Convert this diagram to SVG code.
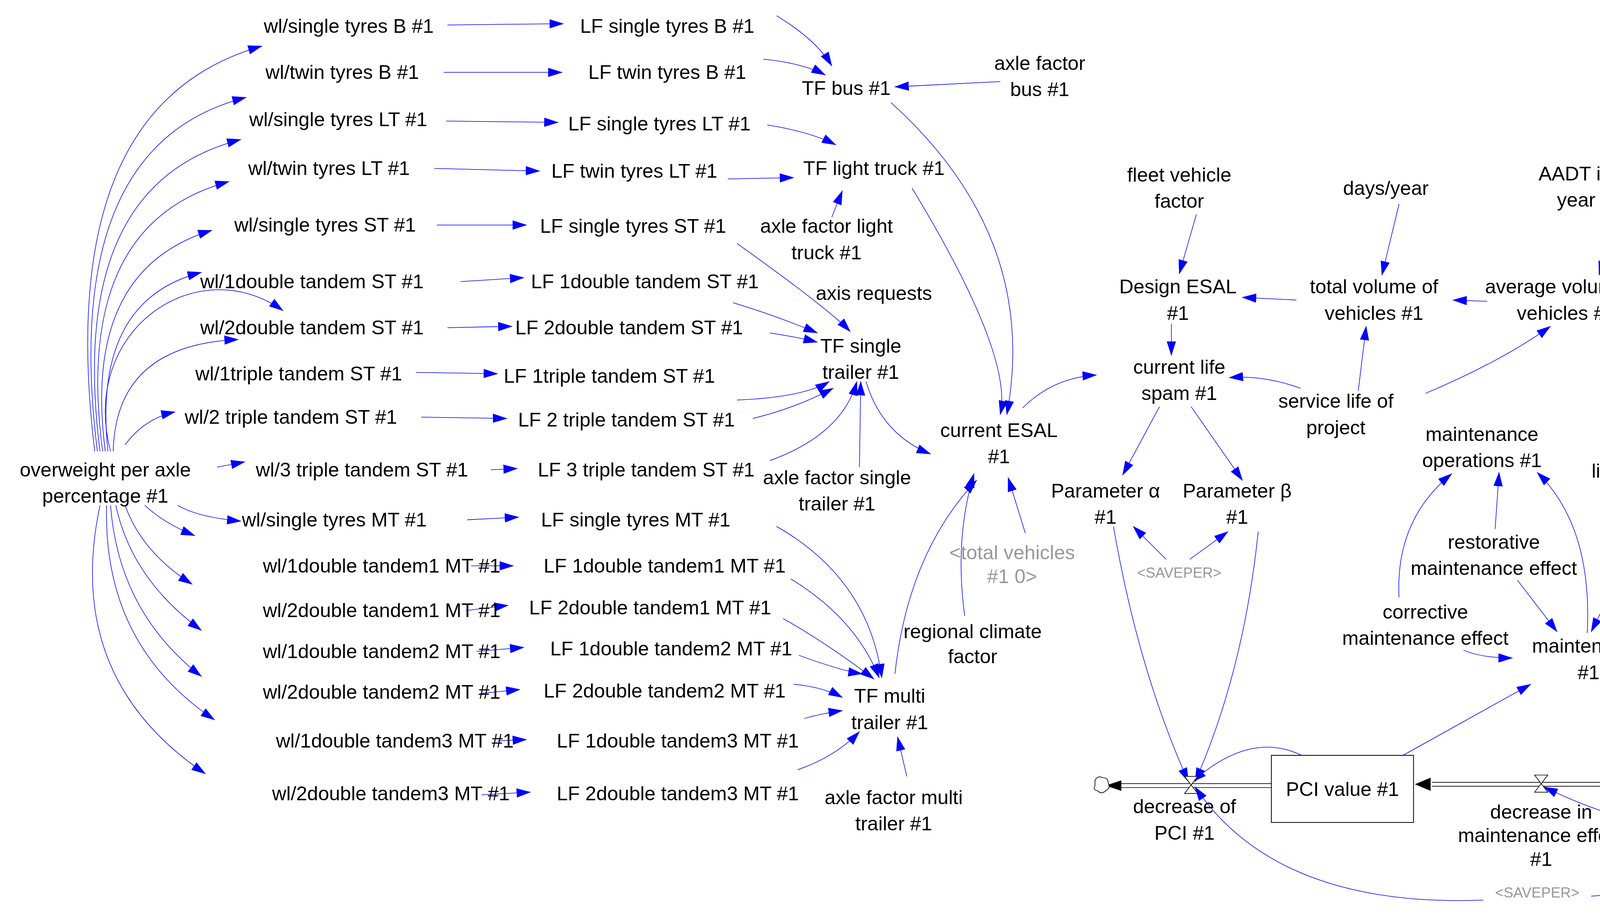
<svg xmlns="http://www.w3.org/2000/svg" width="5283" height="2353" viewBox="0 0 5283 2353">
<style>
text{font-family:"Liberation Sans",Arial,sans-serif;font-size:15px;fill:#000;text-anchor:middle}
text.g{fill:#999}
text.s{font-size:11px}
.c path{fill:none;stroke:#0000ff;stroke-width:0.45;marker-end:url(#a)}
.box{fill:#fff;stroke:#000;stroke-width:0.6}
.pipe{fill:none;stroke:#000;stroke-width:0.5}
</style>
<defs>
<marker id="a" markerUnits="userSpaceOnUse" markerWidth="11" markerHeight="7" refX="10.5" refY="3.5" orient="auto"><path d="M0,0 L11,3.5 L0,7 z" fill="#0000ff"/></marker>
<marker id="b" markerUnits="userSpaceOnUse" markerWidth="12" markerHeight="9" refX="12" refY="4.5" orient="auto"><path d="M0,0 L12,4.5 L0,9 z" fill="#000"/></marker>
</defs>
<rect width="5283" height="2353" fill="#fff"/>
<g transform="scale(3.3693)">
<g id="connectors" class="c">
<path d="M340,19 L428,18"/><path d="M337,55 L427,55"/><path d="M339,92 L424,93"/><path d="M330,128 L410,130"/>
<path d="M332,171 L400,171"/><path d="M350,214 L398,211"/><path d="M340,249 L389,248"/><path d="M316,283 L378,284"/>
<path d="M320,317 L385,318"/><path d="M373,357 L393,356"/><path d="M355,395 L394,393"/><path d="M358,430 L390,430"/>
<path d="M354,464 L386,460"/><path d="M362,495 L398,492"/><path d="M365,527 L395,524"/><path d="M378,563 L400,562"/><path d="M366,604 L403,602"/>
<path d="M72,343 Q40,80 199,35"/><path d="M74,343 Q45,110 187,74"/><path d="M76,343 Q50,140 183,106"/><path d="M78,343 Q55,170 174,138"/>
<path d="M80,343 Q62,205 161,175"/><path d="M82,343 Q70,228 153,207"/><path d="M84,343 C60,250 150,190 215,236"/><path d="M86,343 Q88,262 181,258"/>
<path d="M95,338 Q110,318 133,313"/><path d="M165,355 L186,351"/>
<path d="M135,384 Q150,393 183,396"/><path d="M110,384 Q125,398 148,407"/><path d="M95,384 Q108,420 146,444"/><path d="M88,384 Q100,440 153,479"/>
<path d="M84,384 Q90,465 153,514"/><path d="M81,384 Q78,490 163,547"/><path d="M76,384 Q48,515 156,588"/>
<path d="M590,12 Q620,30 632,50"/><path d="M580,45 Q610,48 627,57"/><path d="M760,62 L680,66"/><path d="M583,95 Q615,100 635,110"/>
<path d="M553,136 L603,135"/><path d="M632,165 L640,145"/><path d="M560,185 Q630,235 646,252"/><path d="M557,230 Q590,240 621,253"/>
<path d="M585,253 Q605,256 621,260"/><path d="M560,304 Q610,302 630,290"/><path d="M572,318 Q605,310 633,295"/>
<path d="M585,350 Q640,330 651,290"/><path d="M653,355 L654,290"/><path d="M658,290 Q670,330 707,345"/>
<path d="M677,78 Q790,180 765,315"/><path d="M693,143 Q770,270 760,315"/><path d="M777,310 Q800,287 833,285"/>
<path d="M590,400 Q660,440 670,515"/><path d="M601,440 Q650,470 668,515"/><path d="M595,470 Q630,490 664,516"/><path d="M607,498 Q640,510 655,512"/>
<path d="M603,520 Q625,522 640,530"/><path d="M611,546 Q625,542 640,540"/><path d="M606,585 Q635,575 653,556"/><path d="M689,590 L682,560"/>
<path d="M680,512 Q690,420 742,365"/><path d="M733,468 Q725,410 740,360"/><path d="M779,405 L766,363"/>
<path d="M909,163 L896,208"/><path d="M1063,155 L1050,209"/><path d="M1216,163 Q1222,185 1215,209"/>
<path d="M985,228 L944,226"/><path d="M1130,229 L1104,228"/><path d="M1346,226 L1280,226"/>
<path d="M890,246 L890,270"/><path d="M988,295 Q960,285 934,287"/><path d="M1032,297 L1038,248"/><path d="M1083,299 Q1140,275 1178,248"/>
<path d="M881,309 L853,361"/><path d="M905,309 L944,365"/><path d="M886,425 L861,400"/><path d="M904,425 L933,404"/>
<path d="M846,400 Q865,510 903,594"/><path d="M956,404 Q945,510 908,594"/><path d="M989,574 Q950,555 906,594"/>
<path d="M1066,574 L1163,520"/><path d="M1280,565 L1224,520"/><path d="M1252,518 L1452,585"/><path d="M1325,502 L1252,500"/>
<path d="M1304,443 L1236,480"/><path d="M1255,388 L1209,480"/><path d="M1153,441 L1183,480"/><path d="M1112,494 Q1125,500 1149,500"/>
<path d="M1136,402 L1139,359"/><path d="M1206,481 Q1210,400 1168,359"/><path d="M1063,454 Q1060,395 1103,360"/>
<path d="M1484,417 L1428,482"/><path d="M1498,476 L1488,482"/>
<path d="M1452,590 Q1320,670 1173,598"/><path d="M1127,684 Q970,690 908,598"/><path d="M1209,681 Q1390,670 1455,588"/>
</g>
<g id="flows">
<path class="pipe" d="M966,595.5 L850,595.5 M966,598.5 L850,598.5"/><path d="M852,593 L840,597 L852,601 z"/>
<path class="pipe" d="M1251,594.5 L1088,594.5 M1251,597.5 L1088,597.5"/><path d="M1087,591 L1075,596 L1087,601 z"/>
<path class="pipe" d="M1525,584.5 L1385,584.5 M1525,587.5 L1385,587.5"/><path d="M1385,581 L1372,586 L1385,591 z"/>
<path d="M900,590 L910,590 L900,603 L910,603 z" fill="#fff" stroke="#000" stroke-width="0.5"/>
<path d="M1166,589 L1176,589 L1166,602 L1176,602 z" fill="#fff" stroke="#000" stroke-width="0.5"/>
<path d="M1453,579 L1463,579 L1453,592 L1463,592 z" fill="#fff" stroke="#000" stroke-width="0.5"/>
<path d="M832,593 q2,-4 6,-2 q4,0 4,4 q2,4 -2,6 q-3,3 -6,0 q-4,-1 -2,-4 z" fill="#fff" stroke="#000" stroke-width="0.5"/>
<path d="M1527,584 q2,-4 6,-2 q4,0 4,4 q2,4 -2,6 q-3,3 -6,0 q-4,-1 -2,-4 z" fill="#fff" stroke="#000" stroke-width="0.5"/>
</g>
<g id="n_wl"><text x="265" y="25">wl/single tyres B #1</text><text x="260" y="60">wl/twin tyres B #1</text><text x="257" y="96">wl/single tyres LT #1</text><text x="250" y="133">wl/twin tyres LT #1</text><text x="247" y="176">wl/single tyres ST #1</text><text x="237" y="219">wl/1double tandem ST #1</text><text x="237" y="254">wl/2double tandem ST #1</text><text x="227" y="289">wl/1triple tandem ST #1</text><text x="221" y="322">wl/2 triple tandem ST #1</text><text x="275" y="362">wl/3 triple tandem ST #1</text><text x="254" y="400">wl/single tyres MT #1</text><text x="290" y="435">wl/1double tandem1 MT #1</text><text x="290" y="469">wl/2double tandem1 MT #1</text><text x="290" y="500">wl/1double tandem2 MT #1</text><text x="290" y="531">wl/2double tandem2 MT #1</text><text x="300" y="568">wl/1double tandem3 MT #1</text><text x="297" y="608">wl/2double tandem3 MT #1</text></g>
<g id="n_ow"><text x="80" y="362">overweight per axle</text><text x="80" y="382">percentage #1</text></g>
<g id="n_lf"><text x="507" y="25">LF single tyres B #1</text><text x="507" y="60">LF twin tyres B #1</text><text x="501" y="99">LF single tyres LT #1</text><text x="482" y="135">LF twin tyres LT #1</text><text x="481" y="177">LF single tyres ST #1</text><text x="490" y="219">LF 1double tandem ST #1</text><text x="478" y="254">LF 2double tandem ST #1</text><text x="463" y="291">LF 1triple tandem ST #1</text><text x="476" y="324">LF 2 triple tandem ST #1</text><text x="491" y="362">LF 3 triple tandem ST #1</text><text x="483" y="400">LF single tyres MT #1</text><text x="505" y="435">LF 1double tandem1 MT #1</text><text x="494" y="467">LF 2double tandem1 MT #1</text><text x="510" y="498">LF 1double tandem2 MT #1</text><text x="505" y="530">LF 2double tandem2 MT #1</text><text x="515" y="568">LF 1double tandem3 MT #1</text><text x="515" y="608">LF 2double tandem3 MT #1</text></g>
<g id="n_tfbus"><text x="643" y="72">TF bus #1</text></g>
<g id="n_axbus"><text x="790" y="53">axle factor</text><text x="790" y="73">bus #1</text></g>
<g id="n_tflt"><text x="664" y="133">TF light truck #1</text></g>
<g id="n_axlt"><text x="628" y="177">axle factor light</text><text x="628" y="197">truck #1</text></g>
<g id="n_axis"><text x="664" y="228">axis requests</text></g>
<g id="n_tfst"><text x="654" y="268">TF single</text><text x="654" y="288">trailer #1</text></g>
<g id="n_axst"><text x="636" y="368">axle factor single</text><text x="636" y="388">trailer #1</text></g>
<g id="n_tfmt"><text x="676" y="534">TF multi</text><text x="676" y="554">trailer #1</text></g>
<g id="n_axmt"><text x="679" y="611">axle factor multi</text><text x="679" y="631">trailer #1</text></g>
<g id="n_cesal"><text x="759" y="332">current ESAL</text><text x="759" y="352">#1</text></g>
<g id="n_tv"><text class="g" x="769" y="425">&lt;total vehicles</text><text class="g" x="769" y="443">#1 0&gt;</text></g>
<g id="n_rc"><text x="739" y="485">regional climate</text><text x="739" y="504">factor</text></g>
<g id="n_fleet"><text x="896" y="138">fleet vehicle</text><text x="896" y="158">factor</text></g>
<g id="n_days"><text x="1053" y="148">days/year</text></g>
<g id="n_aadt"><text x="1208" y="137">AADT initial</text><text x="1208" y="157">year #1</text></g>
<g id="n_design"><text x="895" y="223">Design ESAL</text><text x="895" y="243">#1</text></g>
<g id="n_tot"><text x="1044" y="223">total volume of</text><text x="1044" y="243">vehicles #1</text></g>
<g id="n_avg"><text x="1190" y="223">average volume of</text><text x="1190" y="243">vehicles #1</text></g>
<g id="n_growth"><text class="g" x="1393" y="221">&lt;AADT growth</text><text class="g" x="1393" y="241">rate&gt;</text></g>
<g id="n_life"><text x="896" y="284">current life</text><text x="896" y="304">spam #1</text></g>
<g id="n_serv"><text x="1015" y="310">service life of</text><text x="1015" y="330">project</text></g>
<g id="n_alpha"><text x="840" y="378">Parameter α</text><text x="840" y="398">#1</text></g>
<g id="n_beta"><text x="940" y="378">Parameter β</text><text x="940" y="398">#1</text></g>
<g id="n_save1"><text class="g s" x="896" y="439">&lt;SAVEPER&gt;</text></g>
<g id="n_mops"><text x="1126" y="335">maintenance</text><text x="1126" y="355">operations #1</text></g>
<g id="n_lcor"><text x="1268" y="363">limit for corrective</text><text x="1268" y="383">maintenance</text></g>
<g id="n_rest"><text x="1135" y="417">restorative</text><text x="1135" y="437">maintenance effect</text></g>
<g id="n_lres"><text x="1340" y="419">limit for restorative</text><text x="1340" y="439">maintenance</text></g>
<g id="n_time"><text class="g" x="1491" y="412">&lt;Time&gt;</text></g>
<g id="n_init"><text class="g" x="1519" y="466">&lt;INITIAL</text><text class="g" x="1519" y="486">TIME&gt;</text></g>
<g id="n_corr"><text x="1083" y="470">corrective</text><text x="1083" y="490">maintenance effect</text></g>
<g id="n_maint"><text x="1207" y="496">maintenance</text><text x="1207" y="516">#1</text></g>
<g id="n_tc"><text x="1407" y="497">time control of</text><text x="1407" y="517">pavement evaluation</text></g>
<g id="n_pci"><rect class="box" x="966" y="574" width="108" height="51"/><text x="1020" y="605">PCI value #1</text></g>
<g id="n_eff"><rect class="box" x="1251" y="565" width="121" height="52"/><text x="1311" y="582">effect of</text><text x="1311" y="597">maintenance</text><text x="1311" y="613">#1</text></g>
<g id="n_dpci"><text x="900" y="618">decrease of</text><text x="900" y="638">PCI #1</text></g>
<g id="n_dme"><text x="1171" y="622">decrease in</text><text x="1171" y="640">maintenance effect</text><text x="1171" y="658">#1</text></g>
<g id="n_ime"><text x="1459" y="606">increase in</text><text x="1459" y="626">maintenance effect</text><text x="1459" y="646">#1</text></g>
<g id="n_save2"><text class="g s" x="1168" y="682">&lt;SAVEPER&gt;</text></g>
</g>
</svg>
